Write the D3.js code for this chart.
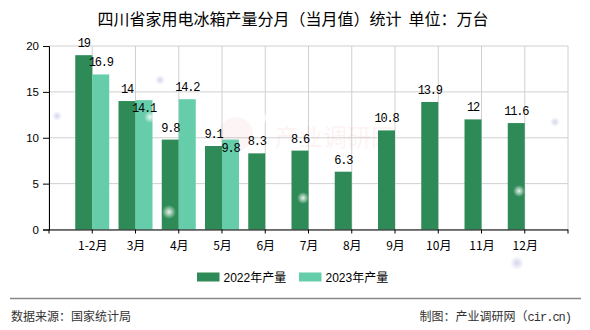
<!DOCTYPE html>
<html>
<head>
<meta charset="utf-8">
<script src="https://cdn.jsdelivr.net/npm/d3@7"></script>
<style>
  html, body { margin: 0; padding: 0; background: #fff; }
  svg { display: block; }
</style>
</head>
<body>
<svg id="chart" width="590" height="330"></svg>
<script>
// Monthly household refrigerator output, Sichuan (10k units)
const months = ["1-2月", "3月", "4月", "5月", "6月", "7月", "8月", "9月", "10月", "11月", "12月"];
const output2022 = [19, 14, 9.8, 9.1, 8.3, 8.6, 6.3, 10.8, 13.9, 12, 11.6];
const output2023 = [16.9, 14.1, 14.2, 9.8, null, null, null, null, null, null, null];
const seriesNames = ["2022年产量", "2023年产量"];
const yTicks = [0, 5, 10, 15, 20];

const title = "四川省家用电冰箱产量分月（当月值）统计 单位：万台";
const sourceText = "数据来源：国家统计局";
const creditCN = "制图：产业调研网（";
const creditURL = "cir.cn)";

const colors = ["#2e8b57", "#66cdaa"];
const margin = { left: 49, right: 22, top: 46, bottom: 100.5 };
const W = 590, H = 330;

const svg = d3.select("#chart");
const plotL = margin.left, plotR = W - margin.right;
const plotT = margin.top, plotB = H - margin.bottom;

const x = d3.scalePoint().domain(months).range([plotL, plotR]).padding(1);
const y = d3.scaleLinear().domain([0, 20]).range([plotB, plotT]);
const step = x.step();
const barW = 17;

// soft decorative glows
const defs = svg.append("defs");
const glow = defs.append("radialGradient").attr("id", "glow");
glow.append("stop").attr("offset", "0%").attr("stop-color", "#fff").attr("stop-opacity", 0.9);
glow.append("stop").attr("offset", "100%").attr("stop-color", "#fff").attr("stop-opacity", 0);
const glowB = defs.append("radialGradient").attr("id", "glowB");
glowB.append("stop").attr("offset", "0%").attr("stop-color", "#c8cbe8").attr("stop-opacity", 0.8);
glowB.append("stop").attr("offset", "100%").attr("stop-color", "#c8cbe8").attr("stop-opacity", 0);

// title
svg.append("text")
  .attr("x", 293).attr("y", 25)
  .attr("text-anchor", "middle")
  .style("font-family", "'Noto Sans CJK SC', sans-serif")
  .style("font-size", "16px")
  .style("white-space", "pre")
  .style("fill", "#000")
  .text(title.replace(" ", "\u00a0\u00a0"));

// grid: vertical lines at every category slot boundary
const gridG = svg.append("g");
const vPos = d3.range(0, months.length + 2).map(i => plotL + i * step);
gridG.selectAll("line.v").data(vPos).join("line")
  .attr("x1", d => d).attr("x2", d => d)
  .attr("y1", plotT).attr("y2", plotB)
  .attr("stroke", "#d0d0d0").attr("stroke-width", 1);
gridG.selectAll("line.h").data(yTicks).join("line")
  .attr("x1", plotL).attr("x2", plotR)
  .attr("y1", d => y(d)).attr("y2", d => y(d))
  .attr("stroke", "#d0d0d0").attr("stroke-width", 1);

// watermark
const wm = svg.append("g").attr("opacity", 0.05);
wm.append("circle").attr("cx", 236).attr("cy", 134).attr("r", 17).attr("fill", "#d33");
wm.append("text").attr("x", 335).attr("y", 146).attr("text-anchor", "middle")
  .style("font-family", "'Noto Sans CJK SC', sans-serif").style("font-size", "24px")
  .style("fill", "#d33").text("产业调研网");

// bars
const barsG = svg.append("g");
const d22 = months.map((m, i) => ({ m, v: output2022[i], s: 0 }));
const d23 = months.map((m, i) => ({ m, v: output2023[i], s: 1 })).filter(d => d.v != null);
barsG.selectAll("rect.s0").data(d22).join("rect")
  .attr("x", d => x(d.m) - barW).attr("width", barW)
  .attr("y", d => y(d.v)).attr("height", d => y(0) - y(d.v))
  .attr("fill", colors[0]);
barsG.selectAll("rect.s1").data(d23).join("rect")
  .attr("x", d => x(d.m)).attr("width", barW)
  .attr("y", d => y(d.v)).attr("height", d => y(0) - y(d.v))
  .attr("fill", colors[1]);

// glows over the plot
const glowSpots = [
  [169, 212, 7, "glow"], [150, 117, 6, "glow"], [265, 118, 6, "glow"], [303, 198, 6, "glow"],
  [519, 191, 6, "glow"], [57, 116, 5, "glowB"], [160, 80, 5, "glowB"], [555, 122, 5, "glowB"],
  [517, 263, 7, "glowB"]
];
svg.append("g").selectAll("circle").data(glowSpots).join("circle")
  .attr("cx", d => d[0]).attr("cy", d => d[1]).attr("r", d => d[2])
  .attr("fill", d => `url(#${d[3]})`);

// value labels, the second series shifted down when it collides with the first
const charW = 6, labH = 10, pad = 1.5;
function labelBox(d) {
  const cx = d.s === 0 ? x(d.m) - barW / 2 : x(d.m) + barW / 2;
  const base = y(d.v) - 8;
  const w = String(d.v).length * charW;
  return { cx, base, x0: cx - w / 2 - pad, x1: cx + w / 2 + pad, y0: base - labH, y1: base };
}
const labels = [];
d22.forEach(d => labels.push(Object.assign({ d }, labelBox(d))));
d23.forEach(d => {
  const b = labelBox(d);
  const other = labels.find(l => l.d.m === d.m);
  if (other && b.x0 < other.x1 && b.x1 > other.x0 && b.y0 < other.y1 && b.y1 > other.y0) {
    b.base += 20;
  }
  labels.push(Object.assign({ d }, b));
});
svg.append("g").selectAll("text").data(labels).join("text")
  .attr("x", l => l.cx).attr("y", l => l.base)
  .attr("text-anchor", "middle")
  .style("font-family", "'Liberation Mono', monospace")
  .style("font-size", "12px")
  .style("letter-spacing", "-1.2px")
  .style("fill", "#000")
  .text(l => l.d.v);

// y axis
const yAxis = svg.append("g").attr("transform", `translate(${plotL},0)`)
  .call(d3.axisLeft(y).tickValues(yTicks).tickSize(6).tickPadding(4));
yAxis.select(".domain").attr("stroke", "#000");
yAxis.selectAll(".tick line").attr("stroke", "#000");
yAxis.selectAll(".tick text")
  .style("font-family", "'Liberation Sans', Arial, sans-serif")
  .style("font-size", "11.5px").style("fill", "#000");

// x axis
const xAxis = svg.append("g").attr("transform", `translate(0,${plotB})`)
  .call(d3.axisBottom(x).tickSize(0).tickPadding(12));
xAxis.select(".domain").attr("stroke", "#000").attr("d", `M${plotL},0.5H${plotR}`);
xAxis.selectAll(".tick text")
  .style("font-family", "'Noto Sans CJK SC', sans-serif")
  .style("font-size", "12px").style("fill", "#000");
xAxis.selectAll("line.slot").data(vPos).join("line").attr("class", "slot")
  .attr("x1", d => d).attr("x2", d => d).attr("y1", 0).attr("y2", 4)
  .attr("stroke", "#000");

// legend
const legend = svg.append("g");
const legendX = [197, 299];
seriesNames.forEach((name, i) => {
  legend.append("rect").attr("x", legendX[i]).attr("y", 272.5)
    .attr("width", 22.5).attr("height", 9).attr("fill", colors[i]);
  legend.append("text").attr("x", legendX[i] + 26.5).attr("y", 282)
    .style("font-family", "'Liberation Sans', 'Noto Sans CJK SC', sans-serif")
    .style("font-size", "12px").style("fill", "#000").text(name);
});

// footer
svg.append("line").attr("x1", 10).attr("x2", 581).attr("y1", 298.5).attr("y2", 298.5)
  .attr("stroke", "#888").attr("stroke-width", 1.5);
svg.append("text").attr("x", 11).attr("y", 321)
  .style("font-family", "'Noto Sans CJK SC', sans-serif").style("font-size", "12px")
  .style("fill", "#333").text(sourceText);
const credit = svg.append("text").attr("x", 571).attr("y", 321).attr("text-anchor", "end")
  .style("font-family", "'Noto Sans CJK SC', sans-serif").style("font-size", "12px")
  .style("fill", "#333");
credit.append("tspan").text(creditCN);
credit.append("tspan")
  .style("font-family", "'Liberation Mono', monospace")
  .style("letter-spacing", "-1px")
  .text(creditURL);
</script>
</body>
</html>
